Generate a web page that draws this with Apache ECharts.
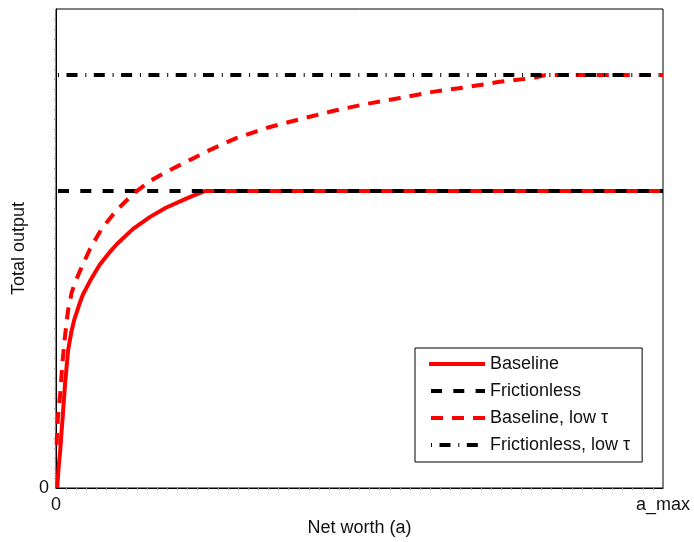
<!DOCTYPE html>
<html>
<head>
<meta charset="utf-8">
<script src="https://cdn.jsdelivr.net/npm/echarts@6/dist/echarts.min.js"></script>
<style>
  html, body { margin: 0; padding: 0; background: #fff; }
  #chart { width: 694px; height: 542px; }
</style>
</head>
<body>
<div id="chart"></div>
<script>
// x runs 0..a_max (scaled to 0..1), y is total output (scaled 0..1)
const baselineX = [0.002, 0.004, 0.007, 0.009, 0.011, 0.015, 0.020, 0.025, 0.030, 0.038, 0.044,
  0.056, 0.072, 0.089, 0.100, 0.127, 0.155, 0.181, 0.209, 0.229, 0.245, 1]
const baselineY = [0.000, 0.038, 0.079, 0.115, 0.148, 0.219, 0.288, 0.324, 0.351, 0.382, 0.403,
  0.432, 0.466, 0.493, 0.509, 0.541, 0.566, 0.585, 0.601, 0.612, 0.620, 0.620]

const frictionlessY = 0.620
const frictionlessLowY = 0.862

const lowTauX = [0.001, 0.003, 0.007, 0.011, 0.015, 0.020, 0.026, 0.033, 0.043, 0.056, 0.076,
  0.100, 0.127, 0.155, 0.188, 0.221, 0.254, 0.298, 0.348, 0.402, 0.456, 0.512, 0.567, 0.621,
  0.677, 0.731, 0.786, 0.806, 1]
const lowTauY = [0.090, 0.146, 0.198, 0.267, 0.319, 0.372, 0.409, 0.434, 0.463, 0.499, 0.543,
  0.580, 0.614, 0.641, 0.664, 0.685, 0.706, 0.731, 0.752, 0.770, 0.787, 0.802, 0.814, 0.827,
  0.837, 0.848, 0.856, 0.862, 0.862]

const seriesNames = ['Baseline', 'Frictionless', 'Baseline, low τ', 'Frictionless, low τ']
const xTickLabels = { 0: '0', 1: 'a_max' }

const zip = (xs, ys) => xs.map((x, i) => [x, ys[i]])
const font = 'Liberation Sans, Arial, sans-serif'
const ink = '#111'

const chart = echarts.init(document.getElementById('chart'))
chart.setOption({
  animation: false,
  backgroundColor: '#fff',
  grid: {
    left: 56, right: 31, top: 9, bottom: 54,
    show: true, borderColor: '#000', borderWidth: 1, backgroundColor: 'transparent',
  },
  xAxis: {
    type: 'value', min: 0, max: 1, interval: 1,
    name: 'Net worth (a)', nameLocation: 'middle', nameGap: 30,
    nameTextStyle: { color: ink, fontSize: 18, fontFamily: font },
    axisLine: { show: true, lineStyle: { color: '#000', width: 1 } },
    axisTick: { show: false },
    minorTick: { show: true, splitNumber: 60, length: 2, lineStyle: { color: '#999' } },
    splitLine: { show: false },
    axisLabel: {
      color: ink, fontSize: 18, fontFamily: font, margin: 8,
      formatter: v => xTickLabels[v] ?? '',
    },
  },
  yAxis: {
    type: 'value', min: 0, max: 1, interval: 1,
    name: 'Total output', nameLocation: 'middle', nameGap: 25, nameRotate: 90,
    nameTextStyle: { color: ink, fontSize: 18, fontFamily: font },
    axisLine: { show: true, lineStyle: { color: '#000', width: 1 } },
    axisTick: { show: false },
    minorTick: { show: true, splitNumber: 48, length: 2, lineStyle: { color: '#999' } },
    splitLine: { show: false },
    axisLabel: {
      color: ink, fontSize: 18, fontFamily: font, margin: 7,
      formatter: v => (v === 0 ? '0' : ''),
    },
  },
  legend: {
    orient: 'vertical', left: 415, top: 348,
    backgroundColor: '#fff', borderColor: '#000', borderWidth: 1,
    padding: [7, 12, 8, 12], itemGap: 9, itemWidth: 56, itemHeight: 18,
    itemStyle: { opacity: 0 },
    lineStyle: { width: 4 },
    textStyle: { color: ink, fontSize: 18, fontFamily: font },
    data: seriesNames,
  },
  series: [
    {
      name: seriesNames[0], type: 'line', symbol: 'none',
      data: zip(baselineX, baselineY),
      lineStyle: { color: '#ff0000', width: 4, join: 'round' },
      itemStyle: { color: '#ff0000' },
    },
    {
      name: seriesNames[1], type: 'line', symbol: 'none',
      data: [[0, frictionlessY], [1, frictionlessY]],
      lineStyle: { color: '#000', width: 4, type: [11, 11.3], dashOffset: -2, cap: 'butt' },
      itemStyle: { color: '#000' },
    },
    {
      name: seriesNames[2], type: 'line', symbol: 'none',
      data: zip(lowTauX, lowTauY),
      lineStyle: { color: '#ff0000', width: 4, type: [12, 9], cap: 'butt', join: 'round' },
      itemStyle: { color: '#ff0000' },
    },
    {
      name: seriesNames[3], type: 'line', symbol: 'none',
      data: [[0, frictionlessLowY], [1, frictionlessLowY]],
      lineStyle: { color: '#000', width: 4, type: [1, 7.5, 11, 7.8], dashOffset: -2, cap: 'butt' },
      itemStyle: { color: '#000' },
    },
  ],
})
</script>
</body>
</html>
